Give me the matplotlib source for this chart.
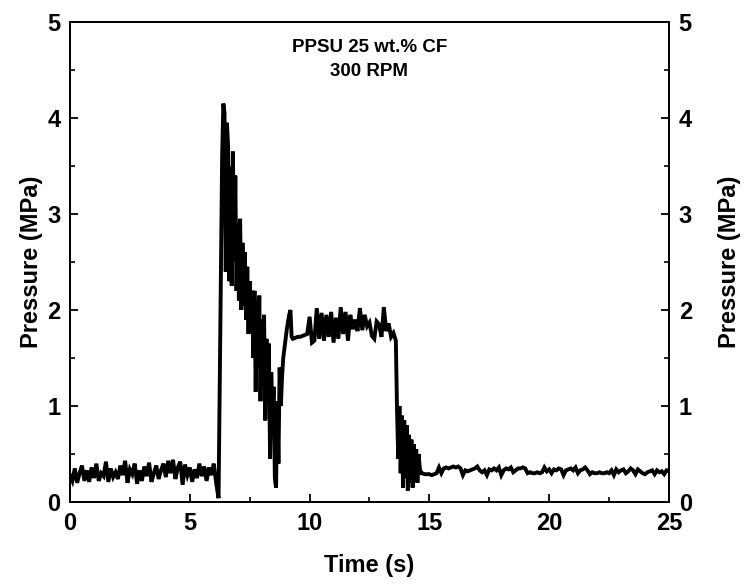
import numpy as np
import matplotlib
matplotlib.use("Agg")
import matplotlib.pyplot as plt
from matplotlib.ticker import MultipleLocator

plt.rcParams['font.family'] = ['Liberation Sans Narrow', 'Liberation Sans', 'DejaVu Sans']
plt.rcParams['font.weight'] = 'bold'

# Pressure readings (MPa) by phase: (start time s, sample step s, values)
p_baseline = [
    0.28, 0.22, 0.35, 0.20, 0.30, 0.38, 0.22, 0.33, 0.21, 0.36,
    0.25, 0.40, 0.22, 0.30, 0.27, 0.42, 0.21, 0.35, 0.26, 0.31,
    0.24, 0.38, 0.28, 0.43, 0.20, 0.34, 0.29, 0.40, 0.19, 0.33,
    0.22, 0.37, 0.27, 0.41, 0.21, 0.30, 0.38, 0.24, 0.33, 0.40,
    0.26, 0.43, 0.30, 0.44, 0.24, 0.36, 0.42, 0.18, 0.39, 0.28,
    0.36, 0.21, 0.34, 0.25, 0.40, 0.27, 0.37, 0.22, 0.36, 0.28,
    0.40, 0.20,
]  # 0.0 - 6.1 s, step 0.1
p_filling = [
    0.04, 1.20, 2.30, 3.60, 4.15, 4.05, 2.40, 3.95, 3.70, 2.30,
    3.50, 2.25, 3.65, 2.50, 3.40, 2.20, 2.90, 2.10, 2.95, 2.00,
    2.70, 2.05, 2.60, 1.90, 2.45, 1.75, 2.30, 1.95, 2.20, 1.50,
    2.20, 1.15, 2.10, 1.40, 2.15, 1.05, 1.90, 1.25, 1.95, 0.85,
    1.70, 1.10, 1.65, 0.45, 1.35, 0.90, 1.20, 0.25, 0.15, 1.05,
    0.40, 1.40, 1.00, 1.30, 1.50, 1.60, 1.70, 1.80, 1.88, 1.95,
    2.00, 1.72,
]  # 6.20 - 9.25 s, step 0.05
p_plateau = [
    1.70, 1.71, 1.72, 1.72, 1.73, 1.74, 1.75,
    1.93, 1.66, 1.68, 2.02, 1.70, 1.97, 1.68, 1.95, 1.72, 1.98,
    1.66, 1.92, 1.70, 2.03, 1.75, 1.98, 1.68, 1.95, 1.80, 1.90,
    1.78, 2.02, 1.79, 1.95, 1.83, 1.87, 1.73, 1.70, 1.88, 1.85,
    1.72, 2.03, 1.78, 1.86, 1.72, 1.76, 1.68,
]  # 9.3 - 13.6 s, step 0.1
p_release = [
    0.95, 0.45, 1.00, 0.30, 0.90, 0.15, 0.85, 0.25, 0.80, 0.12,
    0.70, 0.20, 0.65, 0.15, 0.60, 0.30, 0.55, 0.20, 0.50, 0.35,
    0.30, 0.30,
]  # 13.65 - 14.70 s, step 0.05
p_hold = [
    0.29, 0.29, 0.29, 0.28, 0.29, 0.30, 0.36, 0.30, 0.35, 0.36,
    0.35, 0.36, 0.37, 0.36, 0.37, 0.35, 0.28, 0.33, 0.32, 0.33,
    0.34, 0.35, 0.37, 0.33, 0.31, 0.33, 0.28, 0.34, 0.33, 0.35,
    0.33, 0.36, 0.28, 0.33, 0.35, 0.34, 0.36, 0.31, 0.33, 0.35,
    0.35, 0.36, 0.35, 0.30, 0.31, 0.30, 0.30, 0.31, 0.30, 0.31,
    0.36, 0.32, 0.34, 0.30, 0.34, 0.33, 0.35, 0.34, 0.28, 0.33,
    0.34, 0.35, 0.33, 0.36, 0.30, 0.33, 0.34, 0.36, 0.33, 0.29,
    0.31, 0.30, 0.30, 0.31, 0.30, 0.30, 0.31, 0.30, 0.33, 0.28,
    0.34, 0.31, 0.33, 0.34, 0.30, 0.32, 0.35, 0.33, 0.29, 0.34,
    0.32, 0.30, 0.29, 0.31, 0.32, 0.33, 0.29, 0.33, 0.31, 0.32,
    0.29, 0.33, 0.32,
]  # 14.8 - 25.0 s, step 0.1

segments = [
    (0.0, 0.1, p_baseline),
    (6.2, 0.05, p_filling),
    (9.3, 0.1, p_plateau),
    (13.65, 0.05, p_release),
    (14.8, 0.1, p_hold),
]
time = np.concatenate([start + step * np.arange(len(v)) for start, step, v in segments])
pressure = np.concatenate([np.array(v) for _, _, v in segments])

title_lines = ["PPSU 25 wt.% CF", "300 RPM"]
x_ticks = [0, 5, 10, 15, 20, 25]
y_ticks = [0, 1, 2, 3, 4, 5]

fig = plt.figure(figsize=(7.51, 5.86), dpi=100)
ax = fig.add_axes([0.0932, 0.1433, 0.7976, 0.8192])
ax.plot(time, pressure, color='black', lw=2.8, solid_joinstyle='miter')
ax.set_xlim(0, 25)
ax.set_ylim(0, 5)
ax.set_xticks(x_ticks)
ax.set_yticks(y_ticks)
ax.xaxis.set_minor_locator(MultipleLocator(2.5))
ax.yaxis.set_minor_locator(MultipleLocator(0.5))

ax2 = ax.twinx()
ax2.set_ylim(0, 5)
ax2.set_yticks(y_ticks)
ax2.yaxis.set_minor_locator(MultipleLocator(0.5))

for a in (ax, ax2):
    for s in a.spines.values():
        s.set_linewidth(1.4)
    a.tick_params(which='major', direction='in', length=6, width=1.3, labelsize=17, pad=7)
    a.tick_params(which='minor', direction='in', length=3.5, width=1.2)
ax.tick_params(axis='x', which='both', top=False)
ax.tick_params(axis='y', which='both', right=False)
ax2.tick_params(axis='y', which='both', left=False, right=True)

for lbl in ax.get_xticklabels() + ax.get_yticklabels() + ax2.get_yticklabels():
    lbl.set_fontweight('bold')

ax.set_xlabel("Time (s)", fontsize=17, fontweight='bold', labelpad=14)
ax.set_ylabel("Pressure (MPa)", fontsize=17, fontweight='bold', labelpad=3)
ax2.set_ylabel("Pressure (MPa)", fontsize=17, fontweight='bold', labelpad=19, rotation=90)

ax.text(12.5, 4.73, title_lines[0], ha='center', va='center', fontsize=13.5, fontweight='bold')
ax.text(12.5, 4.48, title_lines[1], ha='center', va='center', fontsize=13.5, fontweight='bold')

fig.savefig("out.png", dpi=100)
